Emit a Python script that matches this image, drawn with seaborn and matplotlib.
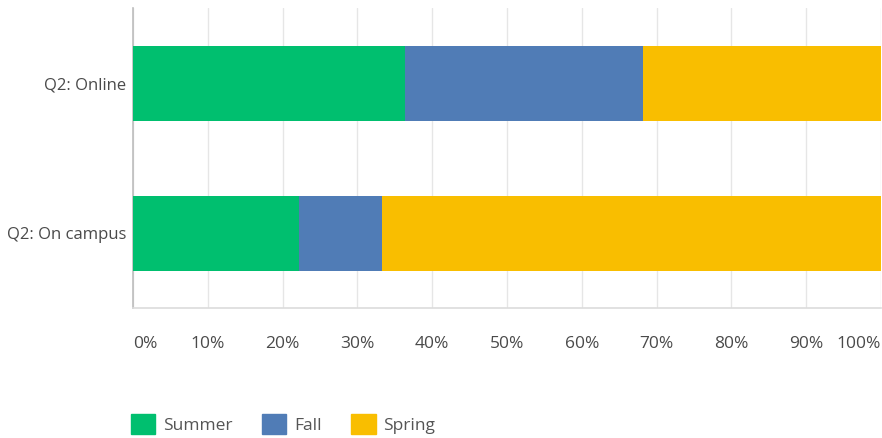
import numpy as np
import pandas as pd
import matplotlib
matplotlib.use('Agg')
import matplotlib.pyplot as plt
import matplotlib.patches as mpatches
import seaborn as sns

# ── Data ──────────────────────────────────────────────────────────────────────
QUESTIONS = ['Q2: Online', 'Q2: On campus']
SEASONS   = ['Summer', 'Fall', 'Spring']
SUMMER    = [36.36, 22.22]
FALL      = [31.82, 11.11]
SPRING    = [31.82, 66.67]
COLORS    = {'Summer': '#00BF6F', 'Fall': '#507CB6', 'Spring': '#F9BE00'}
XTICKS    = [0, 10, 20, 30, 40, 50, 60, 70, 80, 90, 100]

TEXT = '#4a4a4a'

sns.set_style('white')
plt.rcParams['font.family'] = ['Open Sans', 'DejaVu Sans']

df = pd.DataFrame({'question': QUESTIONS, 'Summer': SUMMER,
                   'Fall': FALL, 'Spring': SPRING})
# cumulative ends for stacking
df['cum_Summer'] = df['Summer']
df['cum_Fall']   = df['Summer'] + df['Fall']
df['cum_Spring'] = df['Summer'] + df['Fall'] + df['Spring']

fig = plt.figure(figsize=(8.82, 4.38), dpi=100)
ax = fig.add_axes([133/882, 1 - 308/438, 748/882, 300/438])

# draw from the longest layer down so each visible piece is one season
for s in reversed(SEASONS):
    sns.barplot(data=df, y='question', x=f'cum_{s}', color=COLORS[s],
                orient='h', width=0.5, ax=ax, saturation=1, zorder=3,
                linewidth=0)

ax.set_xlim(0, 100)
ax.set_xticks(XTICKS)
ax.set_xticklabels([f'{t}%' for t in XTICKS])
ax.set_xlabel(''); ax.set_ylabel('')
ax.grid(axis='x', color='#e6e6e6', lw=1, zorder=0)
ax.grid(axis='y', visible=False)

for side in ['top', 'right']:
    ax.spines[side].set_visible(False)
ax.spines['left'].set_color('#bdbdbd')
ax.spines['bottom'].set_color('#dcdcdc')
ax.spines['left'].set_linewidth(1.2)
ax.spines['bottom'].set_linewidth(1.2)

ax.tick_params(axis='both', length=0, colors=TEXT)
ax.tick_params(axis='x', pad=20, labelsize=12.5)
ax.tick_params(axis='y', pad=5, labelsize=12)
xl = ax.get_xticklabels()
xl[0].set_ha('left')
xl[-1].set_ha('right')

handles = [mpatches.Patch(facecolor=COLORS[s], edgecolor=COLORS[s], label=s)
           for s in SEASONS]
fig.legend(handles=handles, loc='center left',
           bbox_to_anchor=(131/882, 1 - 424/438),
           ncol=3, frameon=False, fontsize=12.5, labelcolor='#555555',
           borderpad=0, borderaxespad=0,
           handlelength=1.4, handleheight=1.4, handletextpad=0.45,
           columnspacing=1.7)

fig.savefig('out.png', dpi=100)
